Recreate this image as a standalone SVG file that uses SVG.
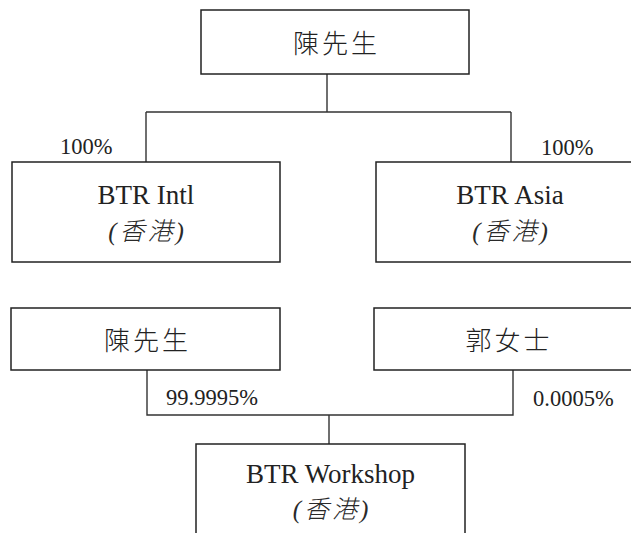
<svg xmlns="http://www.w3.org/2000/svg" width="631" height="533" viewBox="0 0 631 533">
<style>
.box{fill:#fff;stroke:#222;stroke-width:1.5}
.ln{fill:none;stroke:#333;stroke-width:1.4}
.lat{font-family:"Liberation Serif","Noto Sans CJK TC",serif;font-size:27px;fill:#222;text-anchor:middle}
.it{font-family:"Liberation Serif","Noto Sans CJK TC",serif;font-size:25px;font-style:italic;font-weight:300;letter-spacing:3px;fill:#2a2a2a;text-anchor:middle}
.cjk{font-family:"Noto Sans CJK TC",sans-serif;font-size:26px;font-weight:300;letter-spacing:3px;fill:#222;text-anchor:middle}
.pct{font-family:"Liberation Serif",serif;font-size:22.5px;fill:#222}
</style>
<rect width="631" height="533" fill="#fff"/>
<g id="connectors">
<path class="ln" d="M327 74V112M146 112H511M146 112V162M511 112V162"/>
<path class="ln" d="M147 370V415H513V370M329 415V444"/>
</g>
<g id="labels">
<text class="pct" x="60" y="154">100%</text>
<text class="pct" x="541" y="155">100%</text>
<text class="pct" x="166" y="405">99.9995%</text>
<text class="pct" x="533" y="406">0.0005%</text>
</g>
<g id="chen_top">
<rect class="box" x="201" y="10" width="268" height="64"/>
<text class="cjk" x="336.5" y="53">陳先生</text>
</g>
<g id="btr_intl">
<rect class="box" x="12" y="162" width="268" height="100"/>
<text class="lat" x="146" y="204">BTR Intl</text>
<text class="it" x="147.5" y="240">(香港)</text>
</g>
<g id="btr_asia">
<rect class="box" x="376" y="162" width="268" height="100"/>
<text class="lat" x="510" y="204">BTR Asia</text>
<text class="it" x="511.5" y="240">(香港)</text>
</g>
<g id="chen_2">
<rect class="box" x="11" y="308" width="269" height="62"/>
<text class="cjk" x="147.5" y="350">陳先生</text>
</g>
<g id="guo">
<rect class="box" x="374" y="308" width="270" height="62"/>
<text class="cjk" x="509" y="350">郭女士</text>
</g>
<g id="btr_workshop">
<rect class="box" x="196" y="444" width="269" height="100"/>
<text class="lat" x="330.5" y="483">BTR Workshop</text>
<text class="it" x="332" y="518">(香港)</text>
</g>
</svg>
